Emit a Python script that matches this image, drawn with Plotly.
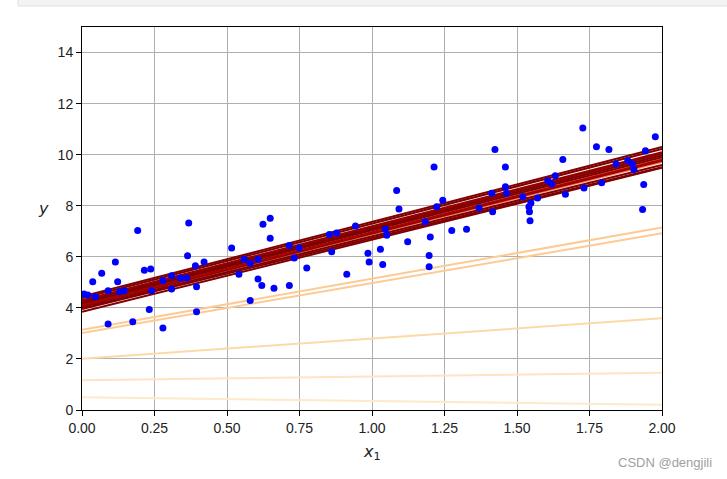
import plotly.graph_objects as go
from plotly.colors import sample_colorscale

# ---- data: training points ----
x_pts = [0.007, 0.046, 0.037, 0.068, 0.090, 0.115, 0.123, 0.129, 0.146, 0.090,
         0.175, 0.192, 0.215, 0.237, 0.240, 0.232, 0.279, 0.279, 0.309, 0.309,
         0.339, 0.361, 0.364, 0.368, 0.391, 0.395, 0.395, 0.421, 0.516, 0.541,
         0.559, 0.580, 0.580, 0.607, 0.607, 0.620, 0.624, 0.649, 0.649, 0.662,
         0.715, 0.715, 0.732, 0.749, 0.775, 0.853, 0.861, 0.878, 0.913, 0.943,
         0.986, 0.990, 1.029, 1.037, 1.046, 1.051, 1.085, 1.093, 1.123, 1.184,
         1.197, 1.197, 1.201, 1.214, 1.223, 1.244, 1.275, 1.326, 1.369, 1.413,
         1.416, 1.424, 1.460, 1.460, 1.464, 1.520, 1.541, 1.543, 1.548, 1.545,
         1.571, 1.606, 1.620, 1.632, 1.658, 1.667, 1.727, 1.731, 1.774, 1.792,
         1.817, 1.842, 1.882, 1.898, 1.903, 1.933, 1.937, 1.943, 1.977, 0.020]
y_pts = [4.54, 4.44, 5.02, 5.36, 4.67, 5.80, 5.02, 4.63, 4.67, 3.37,
         3.46, 7.03, 5.47, 5.52, 4.67, 3.94, 5.07, 3.21, 5.26, 4.74,
         5.17, 5.17, 6.04, 7.32, 5.65, 4.83, 3.85, 5.80, 6.34, 5.32,
         5.90, 5.75, 4.29, 5.90, 5.13, 4.88, 7.27, 7.51, 6.73, 4.77,
         6.44, 4.88, 5.95, 6.34, 5.56, 6.87, 6.20, 6.93, 5.32, 7.21,
         6.14, 5.80, 6.30, 5.70, 7.08, 6.84, 8.60, 7.87, 6.59, 7.37,
         6.05, 5.61, 6.78, 9.52, 7.96, 8.21, 7.03, 7.08, 7.91, 8.49,
         7.76, 10.20, 9.52, 8.74, 8.49, 8.35, 7.96, 7.76, 8.11, 7.41,
         8.30, 8.98, 8.85, 9.17, 9.81, 8.45, 11.04, 8.69, 10.31, 8.90,
         10.20, 9.63, 9.77, 9.63, 9.42, 7.85, 8.83, 10.15, 10.70, 4.50]

# ---- data: first 20 SGD steps (theta0 = intercept, theta1 = slope) ----
theta0 = [0.50, 1.17, 2.01, 3.02, 3.14,
          3.85, 4.38, 4.05, 4.25, 3.95, 4.44, 4.10, 4.20, 4.00, 4.30,
          4.15, 4.06, 4.22, 4.12, 4.18]
theta1 = [-0.145, 0.145, 0.79, 1.95, 2.005,
          2.82, 2.92, 2.83, 2.90, 2.78, 2.93, 2.87, 2.88, 2.80, 2.90,
          2.88, 2.85, 2.88, 2.84, 2.86]
x_new = [0.0, 2.0]

# colormap position of each step's line
cmap_pos = [0.12, 0.15, 0.22, 0.30, 0.30,
            1.0, 1.0, 0.55, 0.95, 1.0, 1.0, 0.6, 0.9, 1.0, 0.95,
            0.5, 0.95, 1.0, 0.9, 1.0]

x_ticks = [0.0, 0.25, 0.5, 0.75, 1.0, 1.25, 1.5, 1.75, 2.0]
y_ticks = [0, 2, 4, 6, 8, 10, 12, 14]

fig = go.Figure()
n = len(theta0)
colors = sample_colorscale("OrRd", cmap_pos)
for i in range(n):
    fig.add_trace(go.Scatter(
        x=x_new, y=[theta0[i] + theta1[i] * xv for xv in x_new],
        mode="lines", line=dict(color=colors[i], width=2),
        hoverinfo="skip", showlegend=False))

fig.add_trace(go.Scatter(x=x_pts, y=y_pts, mode="markers",
                         marker=dict(color="#0000ff", size=7, line=dict(width=0)),
                         showlegend=False))

L, R, T, B = 82, 65, 27, 69
W, H = 727, 479
pw, ph = W - L - R, H - T - B

def px(xp):
    return (xp - L) / pw

def py(yp):
    return (H - B - yp) / ph

axis_common = dict(showline=True, linecolor="black", linewidth=1, mirror=True,
                   ticks="outside", ticklen=5, tickwidth=1, tickcolor="black",
                   showgrid=True, gridcolor="#b0b0b0", gridwidth=1, zeroline=False,
                   tickfont=dict(family="Liberation Sans", size=14, color="#222"))

fig.update_layout(
    width=W, height=H, margin=dict(l=L, r=R, t=T, b=B),
    paper_bgcolor="white", plot_bgcolor="white",
    xaxis=dict(range=[0, 2], tickvals=x_ticks, tickformat=".2f", **axis_common),
    yaxis=dict(range=[0, 15], tickvals=y_ticks, **axis_common),
    shapes=[dict(type="rect", xref="paper", yref="paper",
                 x0=px(18), x1=px(W + 2), y0=py(6), y1=py(-2),
                 fillcolor="#f3f3f3", line=dict(color="#e0e0e0", width=1),
                 layer="below")],
    annotations=[
        dict(text="<i>x</i><sub>1</sub>", xref="paper", yref="paper",
             x=0.5, y=py(452), showarrow=False, xanchor="center", yanchor="middle",
             font=dict(family="DejaVu Sans", size=16, color="#222")),
        dict(text="<i>y</i>", xref="paper", yref="paper",
             x=px(43), y=py(208), showarrow=False, xanchor="center", yanchor="middle",
             font=dict(family="DejaVu Sans", size=16, color="#222")),
        dict(text="CSDN @dengjili", xref="paper", yref="paper",
             x=px(665), y=py(462), showarrow=False, xanchor="center", yanchor="middle",
             font=dict(family="Liberation Sans", size=13, color="#a0a0a0")),
    ],
)

fig.write_html("out.html")
